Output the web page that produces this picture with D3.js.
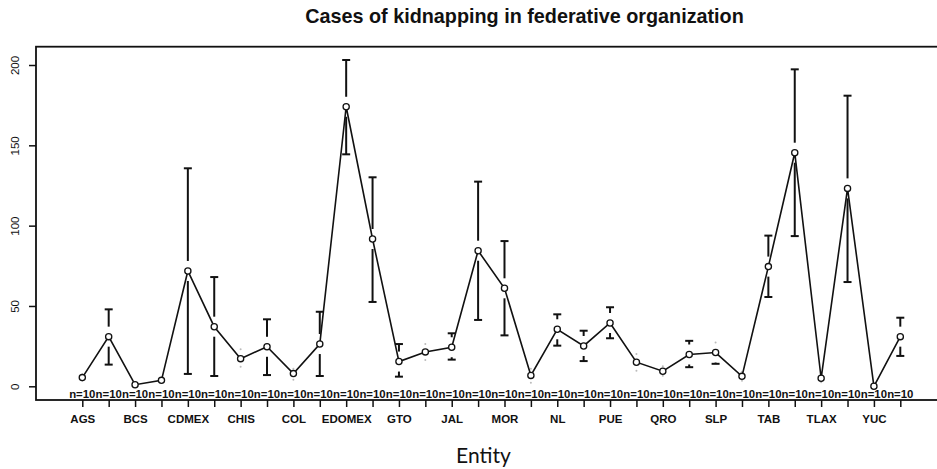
<!DOCTYPE html>
<html>
<head>
<meta charset="utf-8">
<script src="https://cdn.jsdelivr.net/npm/d3@7"></script>
<style>
  html, body { margin: 0; padding: 0; background: #fff; }
  svg { display: block; }
</style>
</head>
<body>
<svg id="chart" width="937" height="469"></svg>
<script>
// ---- data ----
const entities = ["AGS","BC","BCS","CAMP","CDMEX","CHIH","CHIS","COAH","COL","DGO","EDOMEX","GRO","GTO","HGO","JAL","MICH","MOR","NAY","NL","OAX","PUE","QR","QRO","SIN","SLP","SON","TAB","TAMPS","TLAX","VER","YUC","ZAC"];
const shownLabels = ["AGS","BCS","CDMEX","CHIS","COL","EDOMEX","GTO","JAL","MOR","NL","PUE","QRO","SLP","TAB","TLAX","YUC"];
const means = [5.4,30.9,1.0,3.7,71.8,37.1,17.2,24.6,7.9,26.3,174.0,91.7,15.4,21.4,24.3,84.4,61.0,6.8,35.5,25.1,39.4,15.0,9.4,19.8,21.0,6.2,74.5,145.4,5.0,123.2,0.0,30.9];
const upper = [7.5,47.9,2.0,5.5,135.7,68.0,23.0,41.7,11.0,46.4,203.1,130.1,26.3,26.3,33.0,127.4,90.4,11.0,44.8,34.6,49.2,20.1,12.5,28.3,27.2,9.0,93.8,197.3,7.5,180.9,0.5,42.7];
const lower = [3.5,13.5,0.2,2.0,7.7,6.4,12.2,7.0,4.0,6.4,144.4,52.5,6.0,16.4,16.6,41.3,31.7,2.2,25.3,15.7,29.9,9.7,6.5,11.9,14.0,3.5,55.6,93.5,2.5,64.9,0.0,18.9];
const counts = entities.map(() => 10);
const yTicks = [0, 50, 100, 150, 200];
const titleText = "Cases of kidnapping in federative organization";
const xTitle = "Entity";

// ---- drawing ----
const svg = d3.select("#chart");
const ink = "#111";
const box = {left: 36, top: 46.7, right: 945, bottom: 400};

const x = d3.scalePoint().domain(entities).range([82.3, 900.3]).padding(0);
const y = d3.scaleLinear().domain([0, 200]).range([386.3, 65]);

// plot box
svg.append("rect")
  .attr("x", box.left).attr("y", box.top)
  .attr("width", box.right - box.left).attr("height", box.bottom - box.top)
  .attr("fill", "none").attr("stroke", ink).attr("stroke-width", 1.8);

// title
svg.append("text")
  .attr("x", 524.5).attr("y", 23)
  .attr("text-anchor", "middle")
  .attr("font-family", "'Liberation Sans', Arial, sans-serif")
  .attr("font-weight", "bold").attr("font-size", 19.8)
  .attr("fill", ink)
  .text(titleText);

// y axis
const yAxis = d3.axisLeft(y).tickValues(yTicks).tickSize(7).tickPadding(0).tickFormat(d3.format("d"));
const gy = svg.append("g").attr("transform", `translate(${box.left},0)`).call(yAxis);
gy.select(".domain").remove();
gy.selectAll(".tick line").attr("stroke", ink).attr("stroke-width", 1.5);
gy.selectAll(".tick text")
  .attr("x", null).attr("dy", null)
  .attr("text-anchor", "middle")
  .attr("transform", "translate(-21,0) rotate(-90)")
  .attr("dy", "0.35em")
  .attr("font-family", "'Liberation Sans', Arial, sans-serif")
  .attr("font-size", 11.5)
  .attr("fill", ink);

// x axis
const xAxis = d3.axisBottom(x).tickSize(7).tickPadding(8)
  .tickFormat(d => shownLabels.includes(d) ? d : "");
const gx = svg.append("g").attr("transform", `translate(0,${box.bottom})`).call(xAxis);
gx.select(".domain").remove();
gx.selectAll(".tick line").attr("stroke", ink).attr("stroke-width", 1.5);
gx.selectAll(".tick text")
  .attr("font-family", "'Liberation Sans', Arial, sans-serif")
  .attr("font-weight", "bold")
  .attr("font-size", 11.5)
  .attr("fill", ink);

// x title
svg.append("text")
  .attr("x", 483.4).attr("y", 463)
  .attr("text-anchor", "middle")
  .attr("font-family", "Lato, 'Open Sans', sans-serif")
  .attr("font-size", 21)
  .attr("fill", ink)
  .text(xTitle);

// n=10 labels
svg.append("g").selectAll("text").data(entities).join("text")
  .attr("x", d => x(d)).attr("y", 397.5)
  .attr("text-anchor", "middle")
  .attr("font-family", "'Liberation Sans', Arial, sans-serif")
  .attr("font-weight", "bold")
  .attr("font-size", 10.6)
  .attr("textLength", 26.3)
  .attr("lengthAdjust", "spacingAndGlyphs")
  .attr("fill", ink)
  .text((d, i) => "n=" + counts[i]);

// error bars
const gap = 10, cap = 4;
const bars = svg.append("g");
entities.forEach((e, i) => {
  const cx = x(e), cy = y(means[i]);
  const ends = [y(upper[i]), y(lower[i])];
  ends.forEach((ey, k) => {
    const dir = k === 0 ? -1 : 1;
    const start = cy + dir * gap;
    if ((ey - start) * dir > 0.5) {
      bars.append("line").attr("x1", cx).attr("x2", cx).attr("y1", start).attr("y2", ey)
        .attr("stroke", ink).attr("stroke-width", 2);
      bars.append("line").attr("x1", cx - cap).attr("x2", cx + cap).attr("y1", ey).attr("y2", ey)
        .attr("stroke", ink).attr("stroke-width", 2);
    } else if (Math.abs(ey - cy) > 3) {
      bars.append("circle").attr("cx", cx).attr("cy", ey).attr("r", 1)
        .attr("fill", "#bbb");
    }
  });
});

// connecting line
const line = d3.line().x((d, i) => x(entities[i])).y(d => y(d));
svg.append("path").datum(means)
  .attr("d", line)
  .attr("fill", "none").attr("stroke", ink).attr("stroke-width", 1.6);

// points
svg.append("g").selectAll("circle").data(means).join("circle")
  .attr("cx", (d, i) => x(entities[i])).attr("cy", d => y(d))
  .attr("r", 3.1)
  .attr("fill", "#fff").attr("stroke", ink).attr("stroke-width", 1.3);
</script>
</body>
</html>
